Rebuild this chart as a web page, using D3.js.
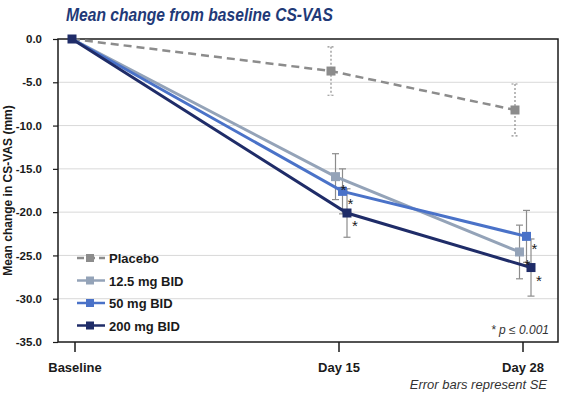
<!DOCTYPE html>
<html><head><meta charset="utf-8">
<script src="https://cdn.jsdelivr.net/npm/d3@7"></script>
<style>body{margin:0;background:#fff}svg{display:block}text{font-family:"Liberation Sans",Arial,sans-serif}</style>
</head><body><svg id="c" width="564" height="402"></svg>
<script>
const categories = ["Baseline", "Day 15", "Day 28"];
const seriesNames = ["Placebo", "12.5 mg BID", "50 mg BID", "200 mg BID"];
const placebo = [0, -3.7, -8.2];
const mg12 = [0, -15.9, -24.6];
const mg50 = [0, -17.6, -22.8];
const mg200 = [0, -20.1, -26.4];
const sePlacebo = [null, 2.8, 3.0];
const se12 = [null, 2.65, 3.1];
const se50 = [null, 2.6, 3.0];
const se200 = [null, 2.8, 3.3];
const significant = [[false,false,false],[false,true,true],[false,true,true],[false,true,true]];
const yTicks = [0, -5, -10, -15, -20, -25, -30, -35];

const colors = ["#8c8c8c", "#94a3b8", "#4a72c8", "#1f2c68"];
const dodge = [-8, -3.5, 3.5, 8];
const values = [placebo, mg12, mg50, mg200];
const ses = [sePlacebo, se12, se50, se200];

const svg = d3.select("#c");
const L = 58, R = 558, T = 39, B = 342;
const xPos = d3.scaleOrdinal().domain(categories).range([75, 339, 523]);
const y = d3.scaleLinear().domain([-35, 0]).range([B, T]);
const fmt = d => d.toFixed(1);

// gridlines
svg.append("g").selectAll("line").data(yTicks.filter(d => d !== 0 && d !== -35)).join("line")
  .attr("x1", L).attr("x2", R).attr("y1", d => y(d)).attr("y2", d => y(d))
  .attr("stroke", "#d9d9d9").attr("stroke-width", 1);

// frame
svg.append("rect").attr("x", L).attr("y", T).attr("width", R - L).attr("height", B - T)
  .attr("fill", "none").attr("stroke", "#1a1a1a").attr("stroke-width", 1.5);

// y axis
const yAxis = d3.axisLeft(y).tickValues(yTicks).tickFormat(fmt).tickSize(5).tickPadding(11);
const gy = svg.append("g").attr("transform", `translate(${L},0)`).call(yAxis);
gy.select(".domain").remove();
gy.selectAll(".tick line").attr("stroke", "#1a1a1a").attr("stroke-width", 1.2);
gy.selectAll(".tick text").attr("font-size", 11.5).attr("font-weight", "bold").attr("fill", "#1a1a1a")
  .style("font-family", "Liberation Sans, Arial, sans-serif");

// x axis ticks (below frame)
const gx = svg.append("g").attr("transform", `translate(0,${B})`);
gx.selectAll("line").data(categories).join("line")
  .attr("x1", d => xPos(d)).attr("x2", d => xPos(d)).attr("y1", 0).attr("y2", 10)
  .attr("stroke", "#1a1a1a").attr("stroke-width", 1.5);
gx.selectAll("text").data(categories).join("text")
  .attr("x", d => xPos(d)).attr("y", 30).attr("text-anchor", "middle")
  .attr("font-size", 13).attr("font-weight", "bold").attr("fill", "#1a1a1a").text(d => d);

function px(si, ci) { return xPos(categories[ci]) + (ci === 0 ? -3 : dodge[si]); }

// error bars
values.forEach((vals, si) => {
  const g = svg.append("g");
  vals.forEach((v, ci) => {
    const se = ses[si][ci];
    if (se == null) return;
    const cx = px(si, ci);
    const dash = si === 0 ? "2,2" : null;
    g.append("line").attr("x1", cx).attr("x2", cx).attr("y1", y(v + se)).attr("y2", y(v - se))
      .attr("stroke", "#8c8c8c").attr("stroke-width", 1.2).attr("stroke-dasharray", dash);
    [v + se, v - se].forEach(e => g.append("line").attr("x1", cx - 3.5).attr("x2", cx + 3.5)
      .attr("y1", y(e)).attr("y2", y(e)).attr("stroke", "#8c8c8c").attr("stroke-width", 1.2)
      .attr("stroke-dasharray", dash));
  });
});

// lines and markers
values.forEach((vals, si) => {
  const pts = vals.map((v, ci) => [px(si, ci), y(v)]);
  svg.append("path").attr("d", d3.line()(pts)).attr("fill", "none").attr("stroke", colors[si])
    .attr("stroke-width", si === 0 ? 2.5 : 3).attr("stroke-dasharray", si === 0 ? "8,5" : null);
  svg.append("g").selectAll("rect").data(pts.filter((p, ci) => !(ci === 0 && si !== 3))).join("rect")
    .attr("x", p => p[0] - 4.5).attr("y", p => p[1] - 4.5).attr("width", 9).attr("height", 9)
    .attr("fill", colors[si]);
});

// significance asterisks
values.forEach((vals, si) => {
  vals.forEach((v, ci) => {
    if (!significant[si][ci]) return;
    svg.append("text").attr("x", px(si, ci) + 8).attr("y", y(v) + 18)
      .attr("font-size", 15).attr("fill", "#1a1a1a").attr("text-anchor", "middle").text("*");
  });
});

// legend
const lg = svg.append("g");
seriesNames.forEach((name, i) => {
  const ly = 258 + i * 22.5;
  lg.append("line").attr("x1", 77).attr("x2", 105).attr("y1", ly).attr("y2", ly)
    .attr("stroke", colors[i]).attr("stroke-width", 2.5).attr("stroke-dasharray", i === 0 ? "7,4" : null);
  lg.append("rect").attr("x", 86).attr("y", ly - 4).attr("width", 8).attr("height", 8).attr("fill", colors[i]);
  lg.append("text").attr("x", 109).attr("y", ly + 5).attr("font-size", 13).attr("font-weight", "bold")
    .attr("fill", "#1a1a1a").text(name);
});

// p note
const pn = svg.append("text").attr("x", 549).attr("y", 334).attr("text-anchor", "end")
  .attr("font-size", 12).attr("font-style", "italic").attr("fill", "#333");
pn.append("tspan").text("* p ≤ 0.001");

// title
svg.append("text").attr("x", 66).attr("y", 21).attr("font-size", 17.5).attr("font-weight", "bold")
  .attr("font-style", "italic").attr("fill", "#1f3a78")
  .attr("textLength", 267).attr("lengthAdjust", "spacingAndGlyphs")
  .text("Mean change from baseline CS-VAS");

// y title
svg.append("text").attr("transform", `translate(12,${(T + B) / 2})  rotate(-90)`)
  .attr("text-anchor", "middle").attr("font-size", 12).attr("font-weight", "bold").attr("fill", "#1a1a1a")
  .text("Mean change in CS-VAS (mm)");

// footnote
svg.append("text").attr("x", 547).attr("y", 389).attr("text-anchor", "end").attr("font-size", 13)
  .attr("font-style", "italic").attr("fill", "#333").text("Error bars represent SE");
</script></body></html>
